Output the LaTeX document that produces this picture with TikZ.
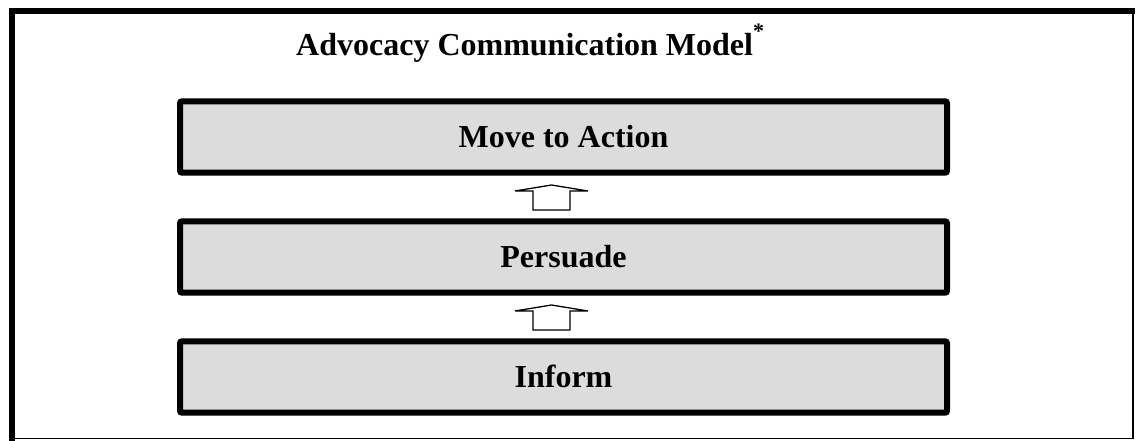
\documentclass[tikz,border=0pt]{standalone}
\usepackage{fontspec}
\setmainfont{Liberation Serif}
\begin{document}
\begin{tikzpicture}[x=1pt,y=1pt,
  level/.style={draw=black, line width=6pt, fill=boxgray, rounded corners=2pt,
    minimum width=767pt, minimum height=71.4pt, inner sep=0pt,
    text height=21pt, text depth=0pt,
    font=\fontsize{32}{38}\selectfont\bfseries},
  blockarrow/.pic={
    \draw[line width=1.3pt, fill=white, line join=miter]
      (-18.5,0) -- (-18.5,19) -- (-36.5,19) -- (0,25) -- (36.5,19)
      -- (18.5,19) -- (18.5,0) -- cycle;
  }]
\definecolor{boxgray}{HTML}{DCDCDC}
\useasboundingbox (0,0) rectangle (1139,-441);
% frame: heavy on the left and top, light on the right and bottom
\draw[line width=1.6pt] (1132.8,-11) -- (1132.8,-438.5) -- (12,-438.5);
\draw[line width=5.6pt, line cap=rect] (12,-438.5) -- (12,-11) -- (1132.5,-11);
% title
\node[anchor=base west, inner sep=0pt, font=\fontsize{32}{38}\selectfont\bfseries]
  (title) at (296,-56)
  {Advocacy Communication Model\raisebox{17pt}{\fontsize{22}{24}\selectfont *}};
% the three stages
\node[level] (action)   at (563.5,-137) {Move to Action};
\node[level] (persuade) at (563.5,-257) {Persuade};
\node[level] (inform)   at (563.5,-377) {Inform};
% upward block arrows between the stages
\pic at ([xshift=-12pt,yshift=8.3pt]persuade.north) {blockarrow};
\pic at ([xshift=-12pt,yshift=8.3pt]inform.north) {blockarrow};
\end{tikzpicture}
\end{document}
